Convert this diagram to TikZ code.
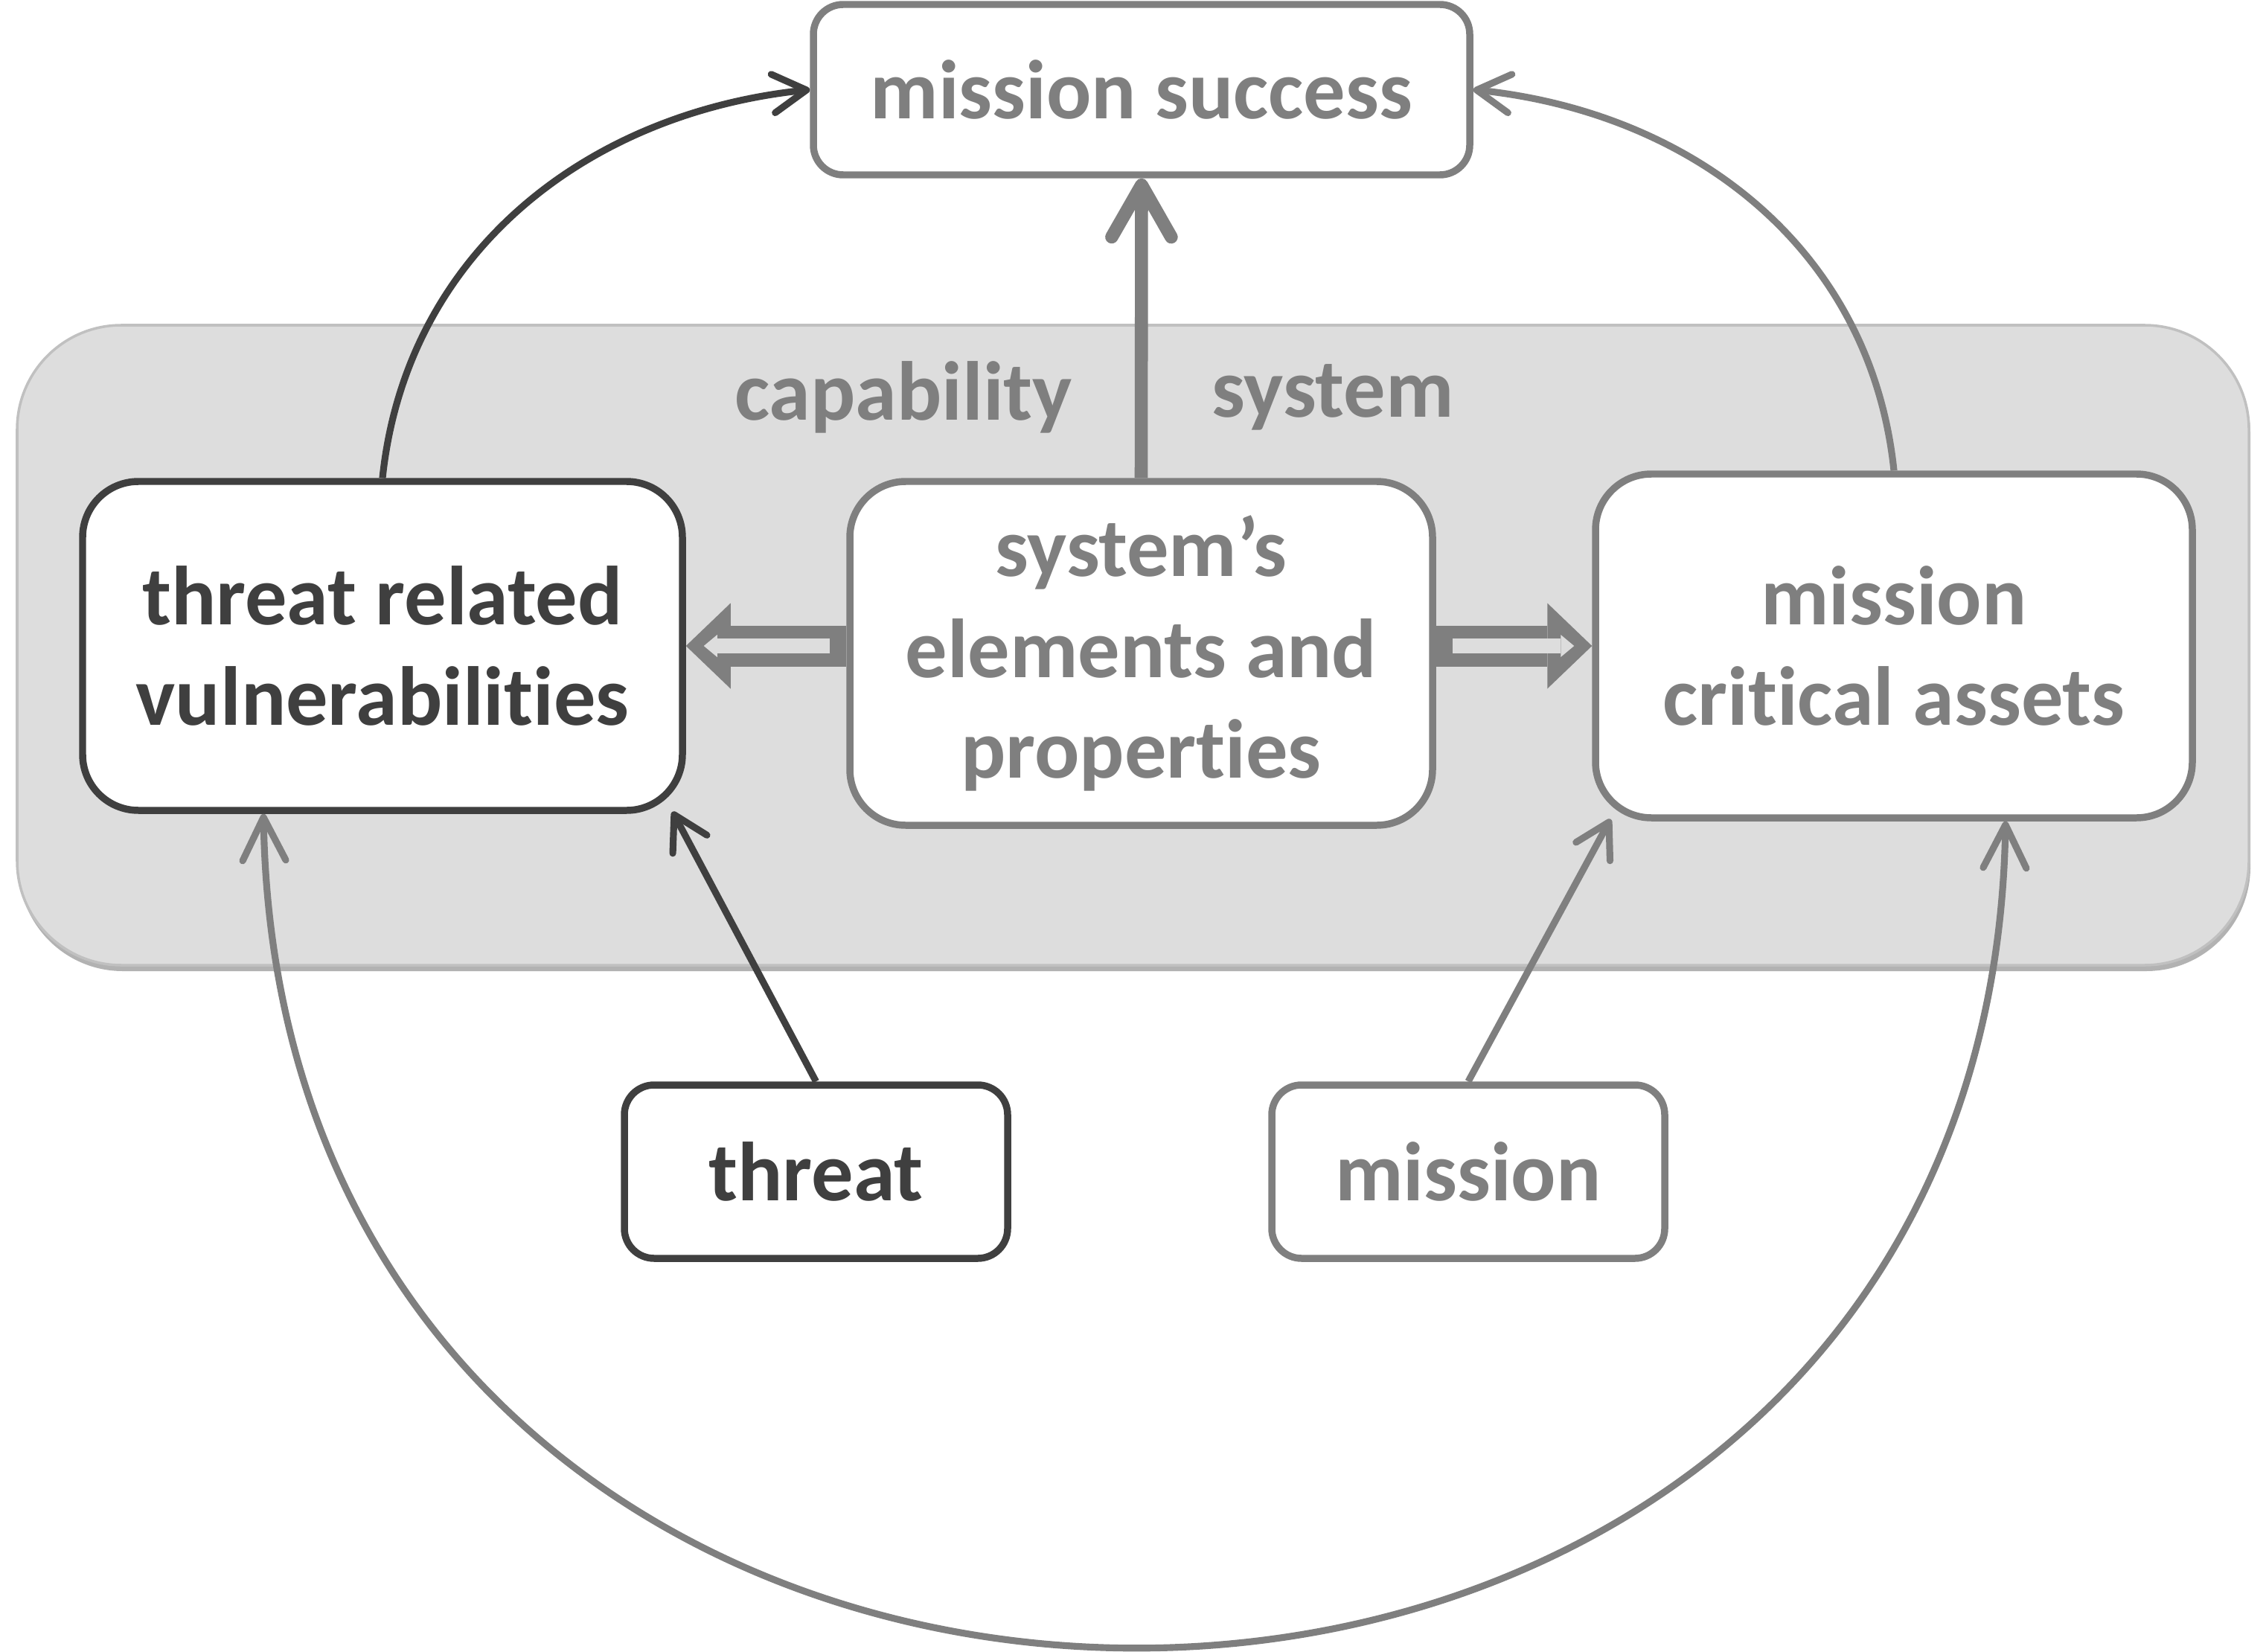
\documentclass[tikz,border=0pt]{standalone}
\usepackage{fontspec}
\setmainfont{Carlito}[Ligatures={NoCommon}]
\usetikzlibrary{arrows.meta}

\definecolor{darkgrey}{HTML}{3F3F3F}
\definecolor{midgrey}{HTML}{7F7F7F}
\definecolor{bandgrey}{HTML}{DDDDDD}
\definecolor{bandedge}{HTML}{C0C0C0}

\begin{document}
\begin{tikzpicture}[
        font=\fontsize{32}{38.5}\selectfont\bfseries,
        bigbox/.style={rectangle, rounded corners=0.75cm, fill=white, line width=2.7pt, align=center, inner sep=0pt},
        smallbox/.style={rectangle, rounded corners=0.4cm, fill=white, line width=2.7pt, align=center, inner sep=0pt},
        darkone/.style={draw=darkgrey, text=darkgrey},
        greyone/.style={draw=midgrey, text=midgrey},
        thinarrow/.style={line width=2.6pt, -{Straight Barb[round, length=0.45cm, width=0.52cm]}},
        arcarrow/.style={line width=2.6pt, midgrey, {Straight Barb[round, length=0.58cm, width=0.58cm]}-{Straight Barb[round, length=0.58cm, width=0.58cm]}},
        fatarrow/.style={line width=0.55cm, midgrey, -{Triangle[length=0.6cm, width=1.15cm, line width=0pt]}},
        fatinner/.style={line width=0.2cm, bandgrey, -{Triangle[length=0.18cm, width=0.3cm, line width=0pt]}}
    ]
        \useasboundingbox (0,0) rectangle (30.45,-22.2);

        % --- BAND ---
        \fill[black!30, rounded corners=1.4cm] (0.25,-4.43) rectangle (30.24,-13.05);
        \node (band) at (15.225,-8.67) [rectangle, rounded corners=1.4cm, draw=bandedge, fill=bandgrey, line width=1pt, minimum width=29.99cm, minimum height=8.6cm] {};
        \node (capability) at (12.14,-5.34) [text=midgrey] {capability};
        \node (system) at (17.91,-5.34) [text=midgrey] {system};

        % --- BOXES ---
        \node (success) at (15.34,-1.205) [smallbox, greyone, minimum width=8.82cm, minimum height=2.29cm] {mission success};
        \node (trv) at (5.14,-8.68) [bigbox, darkone, minimum width=8.06cm, minimum height=4.42cm] {threat related\\vulnerabilities};
        \node (sys) at (15.335,-8.78) [bigbox, greyone, minimum width=7.83cm, minimum height=4.62cm] {system’s\\elements and\\properties};
        \node (mca) at (25.45,-8.68) [bigbox, greyone, minimum width=8.02cm, minimum height=4.62cm] {mission\\critical assets};
        \node (threat) at (10.965,-15.745) [smallbox, darkone, minimum width=5.15cm, minimum height=2.33cm] {threat};
        \node (mission) at (19.73,-15.745) [smallbox, greyone, minimum width=5.28cm, minimum height=2.33cm] {mission};

        % --- CONNECTORS ---
        \draw[line width=5pt, midgrey, -{Straight Barb[round, length=0.7cm, width=0.8cm]}] (sys.north) -- (success.south);
        \draw[thinarrow, darkgrey] (trv.north) to[out=84, in=186, looseness=1] (success.west);
        \draw[thinarrow, midgrey] (mca.north) to[out=96, in=-6, looseness=1] (success.east);
        \draw[thinarrow, darkgrey] (threat.north) -- ([xshift=-0.18cm, yshift=0.03cm]trv.south east);
        \draw[thinarrow, midgrey] (mission.north) -- ([xshift=0.25cm, yshift=0.03cm]mca.south west);
        \draw[arcarrow] ([xshift=-1.6cm]trv.south) .. controls +(0.25,-14.9) and +(-0.25,-14.8) .. ([xshift=1.5cm]mca.south);

        % double arrows out of the system box
        \draw[fatarrow] (sys.west |- trv.east) -- (trv.east);
        \draw[fatinner, shorten <=0.22cm, shorten >=0.24cm] (sys.west |- trv.east) -- (trv.east);
        \draw[fatarrow] (sys.east |- mca.west) -- (mca.west);
        \draw[fatinner, shorten <=0.22cm, shorten >=0.24cm] (sys.east |- mca.west) -- (mca.west);
    \end{tikzpicture}
\end{document}
